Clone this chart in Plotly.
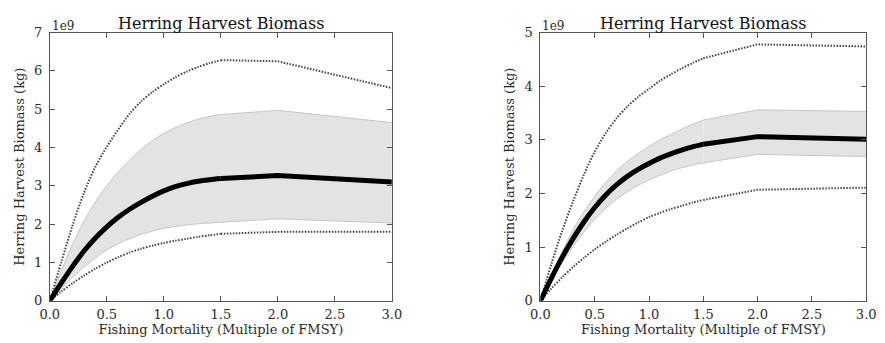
import plotly.graph_objects as go

# Fishing mortality (multiple of FMSY)
x = [0.0, 0.1, 0.2, 0.3, 0.4, 0.5, 0.6, 0.7, 0.8, 0.9, 1.0, 1.1, 1.2, 1.3, 1.4, 1.5, 2.0, 3.0]

# Left panel (units of 1e9 kg)
left_mean = [0, 0.46, 0.90, 1.30, 1.64, 1.93, 2.18, 2.39, 2.57, 2.73, 2.87, 2.98, 3.06, 3.12, 3.16, 3.19, 3.27, 3.10]
left_band_hi = [0, 0.78, 1.48, 2.08, 2.58, 3.00, 3.36, 3.67, 3.95, 4.18, 4.37, 4.52, 4.64, 4.74, 4.81, 4.86, 4.97, 4.65]
left_band_lo = [0, 0.32, 0.62, 0.88, 1.12, 1.33, 1.49, 1.62, 1.73, 1.82, 1.89, 1.94, 1.98, 2.01, 2.03, 2.05, 2.14, 2.03]
left_max = [0, 1.00, 1.97, 2.82, 3.50, 4.02, 4.47, 4.88, 5.20, 5.45, 5.65, 5.83, 5.98, 6.10, 6.20, 6.28, 6.25, 5.55]
left_min = [0, 0.24, 0.46, 0.66, 0.84, 1.00, 1.14, 1.26, 1.36, 1.44, 1.51, 1.57, 1.62, 1.67, 1.71, 1.75, 1.80, 1.80]

# Right panel (units of 1e9 kg)
right_mean = [0, 0.42, 0.81, 1.16, 1.47, 1.74, 1.97, 2.16, 2.32, 2.45, 2.56, 2.66, 2.74, 2.81, 2.87, 2.92, 3.06, 3.01]
right_band_hi = [0, 0.47, 0.92, 1.32, 1.66, 1.95, 2.20, 2.42, 2.60, 2.75, 2.88, 3.00, 3.10, 3.20, 3.29, 3.37, 3.56, 3.53]
right_band_lo = [0, 0.37, 0.71, 1.01, 1.28, 1.52, 1.72, 1.89, 2.03, 2.15, 2.25, 2.34, 2.42, 2.48, 2.53, 2.57, 2.73, 2.69]
right_max = [0, 0.68, 1.30, 1.85, 2.35, 2.78, 3.12, 3.40, 3.62, 3.80, 3.95, 4.10, 4.22, 4.33, 4.43, 4.52, 4.78, 4.74]
right_min = [0, 0.23, 0.44, 0.63, 0.80, 0.96, 1.10, 1.23, 1.35, 1.46, 1.56, 1.64, 1.71, 1.77, 1.83, 1.88, 2.07, 2.11]

title = "Herring Harvest Biomass"
xlabel = "Fishing Mortality (Multiple of FMSY)"
ylabel = "Herring Harvest Biomass (kg)"
x_ticks = [0.0, 0.5, 1.0, 1.5, 2.0, 2.5, 3.0]
left_yticks = [0, 1, 2, 3, 4, 5, 6, 7]
right_yticks = [0, 1, 2, 3, 4, 5]
offset_text = "1e9"

FONT = "DejaVu Serif"
TXT = "#2a2a2a"
FRAME = "#555555"

# index of x = 1.5: smooth (spline) part before it, straight segments after
K = x.index(1.5)

fig = go.Figure()

panels = [
    (left_mean, left_band_hi, left_band_lo, left_max, left_min, "x", "y"),
    (right_mean, right_band_hi, right_band_lo, right_max, right_min, "x2", "y2"),
]

for mean, hi, lo, mx, mn, xa, ya in panels:
    for sl, shape in ((slice(0, K + 1), "spline"), (slice(K, None), "linear")):
        xs = x[sl]
        fig.add_trace(go.Scatter(x=xs, y=lo[sl], mode="lines",
                                 line=dict(color="#c6c6c6", width=1, shape=shape, smoothing=0.8),
                                 xaxis=xa, yaxis=ya, showlegend=False, hoverinfo="skip"))
        fig.add_trace(go.Scatter(x=xs, y=hi[sl], mode="lines",
                                 line=dict(color="#c6c6c6", width=1, shape=shape, smoothing=0.8),
                                 fill="tonexty", fillcolor="#e3e3e3",
                                 xaxis=xa, yaxis=ya, showlegend=False, hoverinfo="skip"))
    for sl, shape in ((slice(0, K + 1), "spline"), (slice(K, None), "linear")):
        xs = x[sl]
        for series in (mx, mn):
            fig.add_trace(go.Scatter(x=xs, y=series[sl], mode="lines",
                                     line=dict(color="#444444", width=2, dash="1.5px,1.5px",
                                               shape=shape, smoothing=0.8),
                                     xaxis=xa, yaxis=ya, showlegend=False))
    for sl, shape in ((slice(0, K + 1), "spline"), (slice(K, None), "linear")):
        fig.add_trace(go.Scatter(x=x[sl], y=mean[sl], mode="lines",
                                 line=dict(color="black", width=5, shape=shape, smoothing=0.8),
                                 xaxis=xa, yaxis=ya, showlegend=False))

ydom = [1 - 307.3 / 343, 1 - 26.7 / 343]
xdom_l = [40.7 / 885, 390.7 / 885]
xdom_r = [542.7 / 885, 876 / 885]


def xaxis_cfg(dom, anchor):
    return dict(domain=dom, anchor=anchor, range=[0, 3], tickvals=x_ticks,
                ticktext=[f"{v:.1f}" for v in x_ticks],
                ticks="inside", ticklen=5, tickcolor=FRAME, showline=True, linecolor=FRAME,
                linewidth=1, mirror="ticks", showgrid=False, zeroline=False,
                tickfont=dict(family=FONT, size=13, color=TXT), ticklabelstandoff=2,
                title=dict(text=xlabel, font=dict(family=FONT, size=13, color=TXT), standoff=2))


def yaxis_cfg(anchor, yt):
    return dict(domain=ydom, anchor=anchor, range=[0, yt[-1]], tickvals=yt,
                ticktext=[str(v) for v in yt],
                ticks="inside", ticklen=5, tickcolor=FRAME, showline=True, linecolor=FRAME,
                linewidth=1, mirror="ticks", showgrid=False, zeroline=False,
                tickfont=dict(family=FONT, size=13, color=TXT), ticklabelstandoff=4,
                title=dict(text=ylabel, font=dict(family=FONT, size=13, color=TXT), standoff=6))


fig.update_layout(
    width=885, height=343, margin=dict(l=0, r=0, t=0, b=0),
    plot_bgcolor="white", paper_bgcolor="white",
    xaxis=xaxis_cfg(xdom_l, "y"), yaxis=yaxis_cfg("x", left_yticks),
    xaxis2=xaxis_cfg(xdom_r, "y2"), yaxis2=yaxis_cfg("x2", right_yticks),
)

for dom in (xdom_l, xdom_r):
    fig.add_annotation(x=(dom[0] + dom[1]) / 2, y=ydom[1], xref="paper", yref="paper",
                       text=title, showarrow=False, xanchor="center", yanchor="bottom", yshift=-2,
                       font=dict(family=FONT, size=16, color="#111111"))
    fig.add_annotation(x=dom[0], y=ydom[1], xref="paper", yref="paper",
                       text=offset_text, showarrow=False, xanchor="left", yanchor="bottom", yshift=-2,
                       font=dict(family=FONT, size=12, color=TXT))

fig.write_html("out.html")
